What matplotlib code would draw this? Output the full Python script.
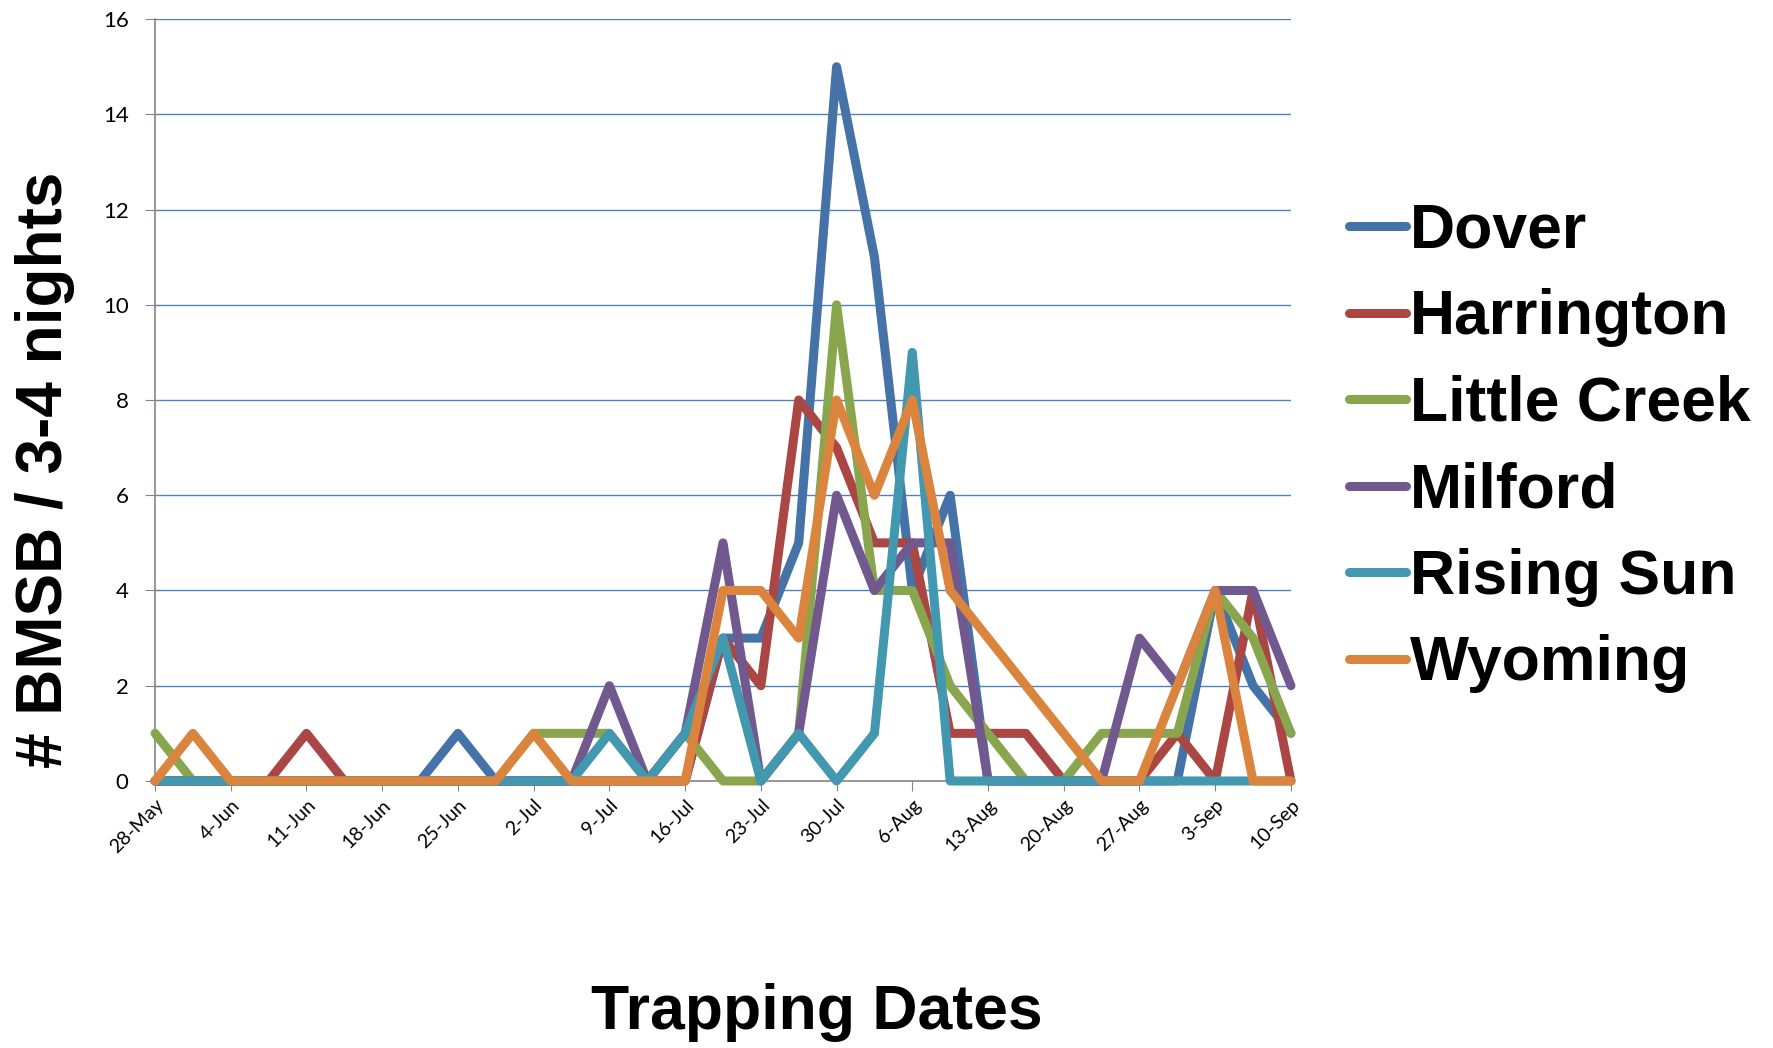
import matplotlib
matplotlib.use("Agg")
import matplotlib.pyplot as plt

# sample days after 28-May (twice-weekly trap checks)
days = [0, 3.5, 7, 10.5, 14, 17.5, 21, 24.5, 28, 31.5, 35, 38.5, 42, 45.5, 49, 52.5,
        56, 59.5, 63, 66.5, 70, 73.5, 77, 80.5, 84, 87.5, 91, 94.5, 98, 101.5, 105]

tick_days = [0, 7, 14, 21, 28, 35, 42, 49, 56, 63, 70, 77, 84, 91, 98, 105]
tick_labels = ["28-May", "4-Jun", "11-Jun", "18-Jun", "25-Jun", "2-Jul", "9-Jul", "16-Jul",
               "23-Jul", "30-Jul", "6-Aug", "13-Aug", "20-Aug", "27-Aug", "3-Sep", "10-Sep"]

dover = [0, 0, 0, 0, 0, 0, 0, 0, 1, 0, 0, 0, 0, 0, 0, 3, 3, 5, 15, 11, 4, 6, 0, 0, 0, 0, 0, 0, 4, 2, 1]
harrington = [0, 0, 0, 0, 1, 0, 0, 0, 0, 0, 0, 0, 0, 0, 0, 3, 2, 8, 7, 5, 5, 1, 1, 1, 0, 0, 0, 1, 0, 4, 0]
little_creek = [1, 0, 0, 0, 0, 0, 0, 0, 0, 0, 1, 1, 1, 0, 1, 0, 0, 1, 10, 4, 4, 2, 1, 0, 0, 1, 1, 1, 4, 3, 1]
milford = [0, 0, 0, 0, 0, 0, 0, 0, 0, 0, 0, 0, 2, 0, 1, 5, 0, 1, 6, 4, 5, 5, 0, 0, 0, 0, 3, 2, 4, 4, 2]
rising_sun = [0, 0, 0, 0, 0, 0, 0, 0, 0, 0, 0, 0, 1, 0, 1, 3, 0, 1, 0, 1, 9, 0, 0, 0, 0, 0, 0, 0, 0, 0, 0]
wyoming = [0, 1, 0, 0, 0, 0, 0, 0, 0, 0, 1, 0, 0, 0, 0, 4, 4, 3, 8, 6, 8, 4, 3, 2, 1, 0, 0, 2, 4, 0, 0]

series_names = ["Dover", "Harrington", "Little Creek", "Milford", "Rising Sun", "Wyoming"]
series_values = [dover, harrington, little_creek, milford, rising_sun, wyoming]
colors = ["#4572A7", "#AA4643", "#89A54E", "#71588F", "#4198AF", "#DB843D"]

fig = plt.figure(figsize=(17.74, 10.48), dpi=100)
ax = fig.add_axes([0.0874, 0.2548, 0.6403, 0.7270])

for name, vals, c in zip(series_names, series_values, colors):
    ax.plot(days, vals, color=c, lw=6.5, label=name,
            solid_joinstyle="round", solid_capstyle="round", clip_on=False)

ax.set_xlim(0, 105)
ax.set_ylim(0, 16)
ax.set_yticks(range(0, 17, 2))
ax.set_xticks(tick_days)
ax.set_xticklabels(tick_labels, rotation=45, ha="right", rotation_mode="anchor",
                   fontsize=14, family="Lato")
for lab in ax.get_yticklabels():
    lab.set_family("Lato")
ax.tick_params(axis="y", labelsize=16, length=7, color="#868686", pad=12)
ax.tick_params(axis="x", length=7, color="#868686", pad=4)

ax.grid(axis="y", color="#4F81BD", lw=1.0)
ax.set_axisbelow(True)
for s in ["top", "right"]:
    ax.spines[s].set_visible(False)
for s in ["left", "bottom"]:
    ax.spines[s].set_color("#868686")
    ax.spines[s].set_linewidth(1.2)
    ax.spines[s].set_zorder(1)

fig.text(0.0256, 0.5517, "# BMSB / 3-4 nights", rotation=90, ha="center", va="center",
         fontsize=46, fontweight="bold", family="Liberation Sans")
fig.text(0.4606, 0.0337, "Trapping Dates", ha="center", va="center",
         fontsize=45, fontweight="bold", family="Liberation Sans")

leg = fig.legend(loc="center left", bbox_to_anchor=(0.7604, 0.5728), frameon=False,
                 prop={"family": "Liberation Sans", "weight": "bold", "size": 45},
                 handlelength=0.92, handletextpad=0.05, labelspacing=0.44,
                 borderpad=0, borderaxespad=0)
for h in leg.get_lines():
    h.set_linewidth(6.5)
    h.set_solid_capstyle("round")

fig.savefig("out.png", dpi=100)
